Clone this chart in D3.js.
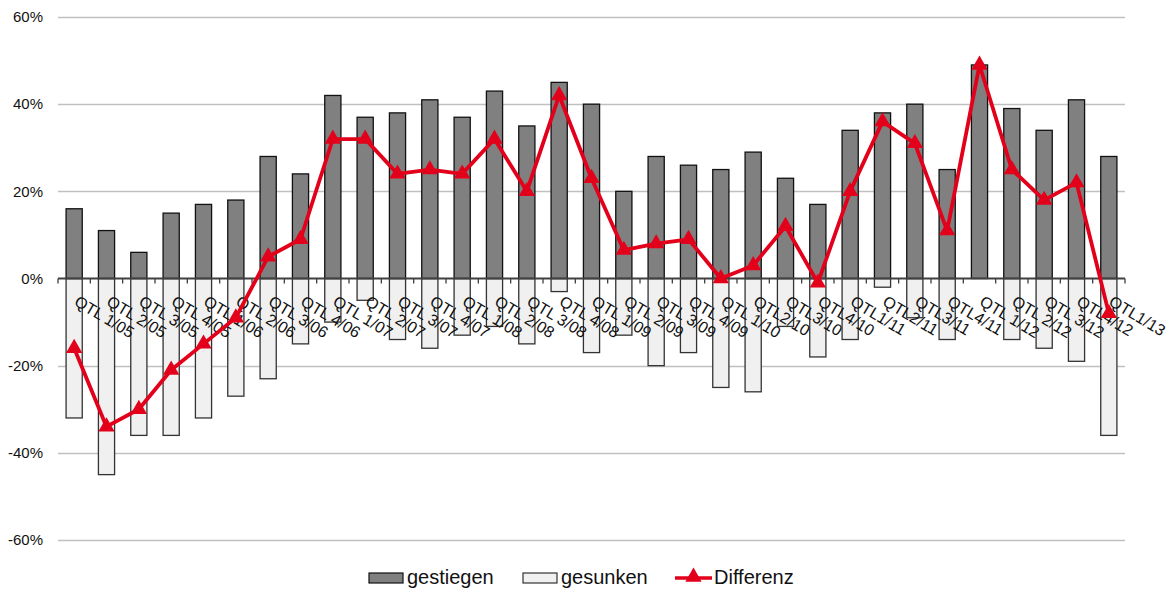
<!DOCTYPE html>
<html>
<head>
<meta charset="utf-8">
<script src="https://cdn.jsdelivr.net/npm/d3@7"></script>
<style>
  body { margin: 0; background: #fff; }
  svg { display: block; font-family: "Liberation Sans", Arial, Helvetica, sans-serif; }
</style>
</head>
<body>
<div id="chart"></div>
<script>
var categories = ["QTL 1/05","QTL 2/05","QTL 3/05","QTL 4/05","QTL 1/06","QTL 2/06","QTL 3/06","QTL 4/06",
  "QTL 1/07","QTL 2/07","QTL 3/07","QTL 4/07","QTL 1/08","QTL 2/08","QTL 3/08","QTL 4/08",
  "QTL 1/09","QTL 2/09","QTL 3/09","QTL 4/09","QTL 1/10","QTL2/10","QTL3/10","QTL4/10",
  "QTL1/11","QTL2/11","QTL3/11","QTL4/11","QTL 1/12","QTL 2/12","QTL 3/12","QTL4/12","QTL1/13"];

var gestiegen = [16,11,6,15,17,18,28,24,42,37,38,41,37,43,35,45,40,20,28,26,25,29,23,17,34,38,40,25,49,39,34,41,28];
var gesunken = [-32,-45,-36,-36,-32,-27,-23,-15,-10,-5,-14,-16,-13,-11,-15,-3,-17,-13,-20,-17,-25,-26,-11,-18,-14,-2,-9,-14,0,-14,-16,-19,-36];
var differenz = [-16,-34,-30,-21,-15,-9,5,9,32,32,24,25,24,32,20,42,23,6.5,8,9,0,3,12,-1,20,36,31,11,49,25,18,22,-8];

var yTicks = [-60,-40,-20,0,20,40,60];

var width = 1168, height = 590;
var margin = { left: 58, right: 1125, top: 17, bottom: 540 };

var svg = d3.select('#chart').append('svg')
    .attr('width', width)
    .attr('height', height);

var x = d3.scaleBand()
    .domain(categories)
    .range([margin.left, margin.right])
    .paddingInner(0.5)
    .paddingOuter(0.25);

var slot = d3.scaleBand()
    .domain(categories)
    .range([margin.left, margin.right])
    .padding(0);

var y = d3.scaleLinear()
    .domain([-60, 60])
    .range([margin.bottom, margin.top]);

// gridlines
svg.append('g')
  .selectAll('line')
  .data(yTicks.filter(d => d != 0))
  .enter()
  .append('line')
    .attr('x1', margin.left)
    .attr('x2', margin.right)
    .attr('y1', d => Math.round(y(d)) + 0.5)
    .attr('y2', d => Math.round(y(d)) + 0.5)
    .attr('stroke', '#c0c0c0')
    .attr('stroke-width', 1.3);

// y axis labels
var yAxis = svg.append('g')
    .attr('transform', `translate(${margin.left},0)`)
    .call(d3.axisLeft(y).tickValues(yTicks).tickSize(0).tickPadding(15).tickFormat(d => d + '%'));
yAxis.select('.domain').remove();
yAxis.selectAll('text')
    .attr('font-size', 15)
    .attr('font-family', '"Liberation Sans", Arial, sans-serif')
    .attr('fill', '#111');

// bars
svg.append('g')
  .selectAll('rect')
  .data(gesunken)
  .enter()
  .append('rect')
    .attr('x', (d, i) => x(categories[i]))
    .attr('y', y(0))
    .attr('width', x.bandwidth())
    .attr('height', d => y(d) - y(0))
    .attr('fill', '#f0f0f0')
    .attr('stroke', '#333')
    .attr('stroke-width', 1.3);

svg.append('g')
  .selectAll('rect')
  .data(gestiegen)
  .enter()
  .append('rect')
    .attr('x', (d, i) => x(categories[i]))
    .attr('y', d => y(d))
    .attr('width', x.bandwidth())
    .attr('height', d => y(0) - y(d))
    .attr('fill', '#808080')
    .attr('stroke', '#111')
    .attr('stroke-width', 1.3);

// zero axis + ticks
var zero = y(0);
svg.append('line')
    .attr('x1', margin.left).attr('x2', margin.right)
    .attr('y1', zero).attr('y2', zero)
    .attr('stroke', '#404040')
    .attr('stroke-width', 2);

svg.append('g')
  .selectAll('line')
  .data(categories.map(c => slot(c)).concat([margin.right]))
  .enter()
  .append('line')
    .attr('x1', d => d).attr('x2', d => d)
    .attr('y1', zero).attr('y2', zero + 5)
    .attr('stroke', '#404040')
    .attr('stroke-width', 1.3);

// category labels
svg.append('g')
  .selectAll('text')
  .data(categories)
  .enter()
  .append('text')
    .attr('transform', d => `translate(${x(d) + x.bandwidth() / 2 - 1},${zero + 26}) rotate(31)`)
    .attr('font-size', 16)
    .attr('fill', '#111')
    .text(d => d);

// Differenz line
var line = d3.line()
    .x((d, i) => x(categories[i]) + x.bandwidth() / 2)
    .y(d => y(d));

svg.append('path')
    .datum(differenz)
    .attr('d', line)
    .attr('fill', 'none')
    .attr('stroke', '#e2001a')
    .attr('stroke-width', 3.8)
    .attr('stroke-linejoin', 'round');

var tri = d3.symbol().type(d3.symbolTriangle).size(115);
svg.append('g')
  .selectAll('path')
  .data(differenz)
  .enter()
  .append('path')
    .attr('d', tri)
    .attr('transform', (d, i) => `translate(${x(categories[i]) + x.bandwidth() / 2},${y(d)})`)
    .attr('fill', '#e2001a');

// legend
var lg = svg.append('g').attr('font-size', 20).attr('fill', '#111');
lg.append('rect').attr('x', 369).attr('y', 573).attr('width', 34).attr('height', 10)
    .attr('fill', '#808080').attr('stroke', '#111').attr('stroke-width', 1.2);
lg.append('text').attr('x', 407).attr('y', 584).text('gestiegen');
lg.append('rect').attr('x', 523).attr('y', 573).attr('width', 34).attr('height', 10)
    .attr('fill', '#f0f0f0').attr('stroke', '#333').attr('stroke-width', 1.2);
lg.append('text').attr('x', 561).attr('y', 584).text('gesunken');
lg.append('line').attr('x1', 675).attr('x2', 712).attr('y1', 578).attr('y2', 578)
    .attr('stroke', '#e2001a').attr('stroke-width', 3.5);
lg.append('path').attr('d', tri).attr('transform', 'translate(693.5,577)').attr('fill', '#e2001a');
lg.append('text').attr('x', 714).attr('y', 584).text('Differenz');
</script>
</body>
</html>
